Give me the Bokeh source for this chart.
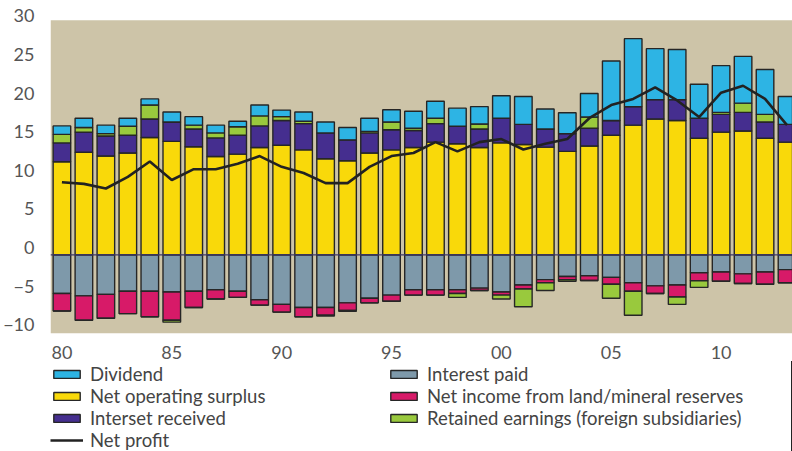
import numpy as np
from bokeh.plotting import figure
from bokeh.layouts import column
from bokeh.models import (ColumnDataSource, Legend, LegendItem, FixedTicker, Span,
                          Range1d, LinearAxis, BoxAnnotation)
from bokeh.embed import file_html
from bokeh.resources import INLINE

years = list(range(1980, 2014))
net_operating_surplus = [12.06, 13.3, 12.8, 13.2, 15.2, 14.7, 14.0, 12.75, 13.05, 13.9,
                         14.2, 13.6, 12.45, 12.2, 13.2, 13.6, 13.9, 14.6, 14.4, 13.9,
                         14.5, 14.3, 13.95, 13.4, 14.1, 15.5, 16.8, 17.6, 17.4, 15.1,
                         15.9, 16.05, 15.1, 14.6]
interest_received = [2.44, 2.6, 2.6, 2.3, 2.4, 2.5, 2.3, 2.4, 2.45, 2.8,
                     3.2, 3.4, 3.35, 2.7, 2.6, 2.6, 2.2, 2.4, 2.25, 2.4,
                     3.2, 2.6, 2.35, 2.3, 2.3, 1.9, 2.4, 2.5, 2.7, 2.6,
                     2.3, 2.4, 2.1, 2.3]
retained_earnings = [1.1, 0.6, 0.3, 1.15, 1.8, -0.25, 0.5, 0.65, 1.1, 1.3,
                     0.5, 0.3, -0.1, -0.1, 0.2, 1.0, 0.3, 0.7, -0.5, 0.65,
                     -0.5, -2.3, -1.0, -0.2, 1.45, -1.8, -3.1, 0.0, -0.95, -0.85,
                     0.25, 1.2, 1.0, 0.0]
dividend = [1.1, 1.2, 1.1, 1.05, 0.8, 1.3, 1.1, 1.0, 0.7, 1.4,
            0.85, 1.2, 1.4, 1.6, 1.7, 1.6, 2.2, 2.2, 2.35, 2.25,
            2.9, 3.6, 2.6, 2.7, 3.05, 7.7, 8.8, 6.6, 6.5, 4.4,
            6.05, 6.05, 5.8, 3.6]
interest_paid = [-5.0, -5.3, -5.1, -4.7, -4.7, -4.8, -4.7, -4.5, -4.7, -5.8,
                 -6.4, -6.8, -6.8, -6.2, -5.6, -5.2, -4.5, -4.5, -4.5, -4.3,
                 -4.8, -3.9, -3.2, -2.8, -2.7, -2.9, -3.6, -4.0, -3.9, -2.3,
                 -2.2, -2.45, -2.2, -1.9]
land_income = [-2.25, -3.15, -3.1, -2.9, -3.3, -3.65, -2.1, -1.2, -0.8, -0.7,
               -1.0, -1.2, -1.0, -1.0, -0.6, -0.8, -0.7, -0.7, -0.5, -0.3,
               -0.4, -0.5, -0.4, -0.4, -0.6, -0.9, -1.1, -1.0, -1.55, -1.05,
               -1.2, -1.25, -1.6, -1.7]
net_profit = [9.4, 9.2, 8.6, 10.1, 12.1, 9.7, 11.1, 11.1, 11.8, 12.8,
              11.4, 10.6, 9.3, 9.3, 11.4, 12.8, 13.2, 14.6, 13.4, 14.6,
              15.0, 13.65, 14.4, 15.0, 17.7, 19.4, 20.2, 21.7, 20.0, 17.85,
              21.0, 21.9, 20.2, 16.8]
tick_years = [1980, 1985, 1990, 1995, 2000, 2005, 2010]
tick_labels = ["80", "85", "90", "95", "00", "05", "10"]
y_ticks = [-10, -5, 0, 5, 10, 15, 20, 25, 30]

C_BLUE = "#2db4e4"
C_YELLOW = "#f9d90a"
C_PURPLE = "#452e8f"
C_GREEN = "#99c93d"
C_GRAY = "#7e99aa"
C_PINK = "#d71a68"
BG = "#cdc4a8"
FONT = "Lato"
OUTLINE = "#262626"

nos = np.array(net_operating_surplus)
ir = np.array(interest_received)
re = np.array(retained_earnings)
dv = np.array(dividend)
ip = np.array(interest_paid)
li = np.array(land_income)
re_pos = np.clip(re, 0, None)
re_neg = np.clip(re, None, 0)

src = ColumnDataSource(dict(
    x=years,
    nos_b=np.zeros(len(years)), nos_t=nos,
    ir_b=nos, ir_t=nos + ir,
    rep_b=nos + ir, rep_t=nos + ir + re_pos,
    dv_b=nos + ir + re_pos, dv_t=nos + ir + re_pos + dv,
    ip_b=ip, ip_t=np.zeros(len(years)),
    li_b=ip + li, li_t=ip,
    ren_b=ip + li + re_neg, ren_t=ip + li,
    np_=net_profit,
))

Y0, Y1 = -10.17, 30.37      # extent of the shaded plot area
YTOP = 31.9                  # room above for the "30" label
LAB_SHIFT = 0.95             # labels sit slightly above their ticks
PX_PER_UNIT = 315 / (Y1 - Y0)
extra_top = (YTOP - Y1) * PX_PER_UNIT

p = figure(width=792, height=361, x_range=(1979.48, 2013.25), y_range=(Y0, YTOP),
           output_backend="svg", toolbar_location=None,
           min_border_left=49, min_border_right=0, min_border_top=int(round(20 - extra_top)),
           min_border_bottom=26,
           background_fill_color="white", border_fill_color="white", outline_line_color=None,
           y_axis_location=None)
p.add_layout(BoxAnnotation(top=Y1, fill_color=BG, fill_alpha=1, line_alpha=0, level="underlay"))
p.extra_y_ranges = {"lab": Range1d(Y0 - LAB_SHIFT, YTOP - LAB_SHIFT)}
yax = LinearAxis(y_range_name="lab")
p.add_layout(yax, "left")

W = 0.8
common = dict(source=src, width=W, line_color=OUTLINE, line_width=1.4)
p.vbar(x="x", bottom="nos_b", top="nos_t", fill_color=C_YELLOW, **common)
p.vbar(x="x", bottom="ir_b", top="ir_t", fill_color=C_PURPLE, **common)
p.vbar(x="x", bottom="rep_b", top="rep_t", fill_color=C_GREEN, **common)
p.vbar(x="x", bottom="dv_b", top="dv_t", fill_color=C_BLUE, **common)
p.vbar(x="x", bottom="ip_b", top="ip_t", fill_color=C_GRAY, **common)
p.vbar(x="x", bottom="li_b", top="li_t", fill_color=C_PINK, **common)
p.vbar(x="x", bottom="ren_b", top="ren_t", fill_color=C_GREEN, **common)

p.add_layout(Span(location=0, dimension="width", line_color="#3f3a6a", line_width=1.2))

p.line(x="x", y="np_", source=src, line_color="#222222", line_width=2.6)

p.xgrid.visible = False
p.ygrid.visible = False
for ax in (p.xaxis[0], yax):
    ax.axis_line_color = None
    ax.major_tick_line_color = None
    ax.minor_tick_line_color = None
    ax.major_tick_out = 0
    ax.major_tick_in = 0
    ax.minor_tick_out = 0
    ax.minor_tick_in = 0
    ax.major_label_text_font = FONT
    ax.major_label_text_font_size = "18px"
    ax.major_label_text_color = "#555555"

p.xaxis[0].ticker = FixedTicker(ticks=tick_years)
p.xaxis[0].major_label_overrides = {y: l for y, l in zip(tick_years, tick_labels)}
p.xaxis[0].major_label_standoff = 12
yax.ticker = FixedTicker(ticks=y_ticks)
yax.major_label_standoff = 16

# legend panel below the chart (its renderers reuse the data but fall outside its view)
lg = figure(width=792, height=90, x_range=(0, 1), y_range=(0, 1),
            output_backend="svg", toolbar_location=None,
            min_border=0, outline_line_color=None, border_fill_color="white",
            background_fill_color="white", x_axis_location=None, y_axis_location=None)
lg.xgrid.visible = False
lg.ygrid.visible = False
lcommon = dict(source=src, x="x", width=W, line_color=OUTLINE, line_width=1.4)
l_dv = lg.vbar(bottom="dv_b", top="dv_t", fill_color=C_BLUE, **lcommon)
l_nos = lg.vbar(bottom="nos_b", top="nos_t", fill_color=C_YELLOW, **lcommon)
l_ir = lg.vbar(bottom="ir_b", top="ir_t", fill_color=C_PURPLE, **lcommon)
l_np = lg.line(x="x", y="np_", source=src, line_color="#222222", line_width=2.6)
l_ip = lg.vbar(bottom="ip_b", top="ip_t", fill_color=C_GRAY, **lcommon)
l_li = lg.vbar(bottom="li_b", top="li_t", fill_color=C_PINK, **lcommon)
l_re = lg.vbar(bottom="ren_b", top="ren_t", fill_color=C_GREEN, **lcommon)

legend = Legend(items=[
    LegendItem(label="Dividend", renderers=[l_dv]),
    LegendItem(label="Net operating surplus", renderers=[l_nos]),
    LegendItem(label="Interset received", renderers=[l_ir]),
    LegendItem(label="Net profit", renderers=[l_np]),
    LegendItem(label="Interest paid", renderers=[l_ip]),
    LegendItem(label="Net income from land/mineral reserves", renderers=[l_li]),
    LegendItem(label="Retained earnings (foreign subsidiaries)", renderers=[l_re]),
], location=(0, 0), orientation="vertical", nrows=4,
    glyph_width=33, glyph_height=10, label_standoff=7, spacing=0, padding=0,
    margin=0, label_height=21, label_width=297, border_line_alpha=0, background_fill_alpha=0,
    label_text_font=FONT, label_text_font_size="18.5px", label_text_color="#444444")
lg.add_layout(legend)

open("out.html", "w").write(file_html(column(p, lg, spacing=0), INLINE))
